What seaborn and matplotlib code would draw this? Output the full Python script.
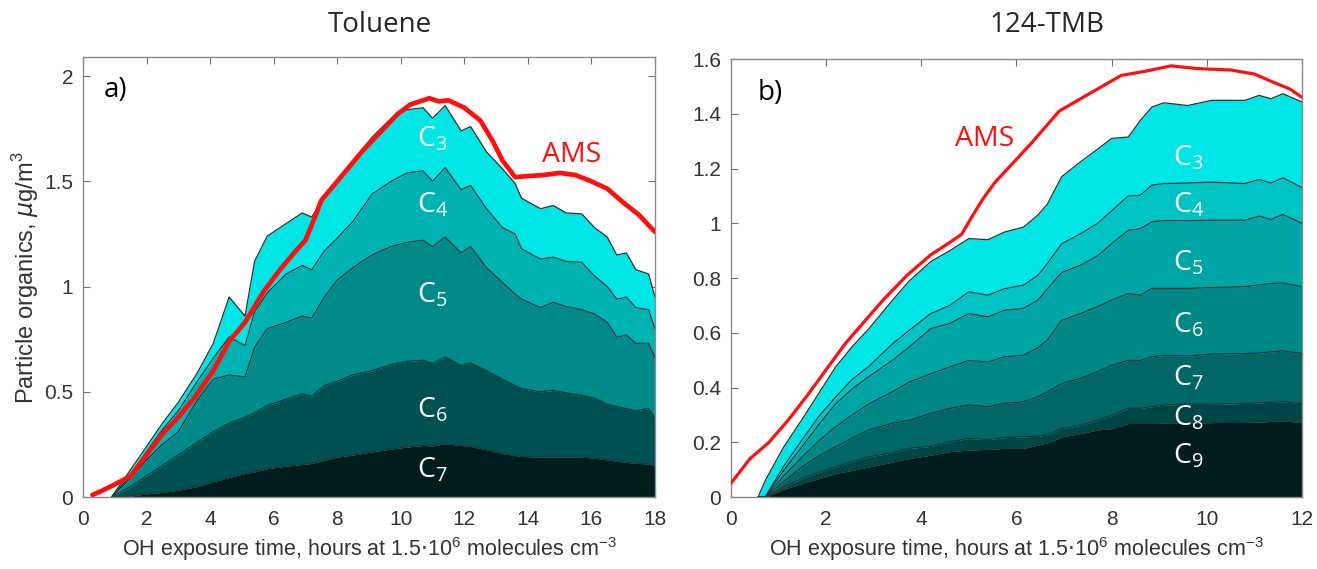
import numpy as np
import seaborn as sns
import matplotlib.pyplot as plt
from matplotlib.ticker import FuncFormatter

# ---- Toluene (panel a): upper edge of each stacked band, bottom to top ----
tol_x = [0.9, 1.5, 2.0, 2.5, 3.0, 3.6, 4.1, 4.6, 5.1, 5.4, 5.8, 6.4, 6.9, 7.2,
         7.6, 8.0, 8.5, 9.1, 9.7, 10.2, 10.7, 11.0, 11.4, 11.9, 12.2, 12.7,
         13.2, 13.6, 13.8, 14.4, 14.8, 15.2, 15.7, 16.1, 16.5, 16.8, 17.1,
         17.4, 17.8, 18.0]
tol_c7 = [0, 0.005, 0.015, 0.022, 0.033, 0.05, 0.073, 0.093, 0.112, 0.12,
          0.135, 0.147, 0.155, 0.16, 0.175, 0.19, 0.20, 0.215, 0.228, 0.238,
          0.245, 0.243, 0.254, 0.245, 0.24, 0.225, 0.207, 0.198, 0.193, 0.19,
          0.19, 0.19, 0.19, 0.185, 0.177, 0.17, 0.165, 0.16, 0.158, 0.147]
tol_c6 = [0, 0.05, 0.10, 0.15, 0.20, 0.26, 0.31, 0.35, 0.38, 0.40, 0.435,
          0.465, 0.49, 0.48, 0.53, 0.55, 0.58, 0.60, 0.63, 0.645, 0.65, 0.635,
          0.665, 0.625, 0.637, 0.60, 0.56, 0.53, 0.515, 0.50, 0.507, 0.495,
          0.483, 0.47, 0.44, 0.43, 0.42, 0.41, 0.42, 0.375]
tol_c5 = [0, 0.09, 0.175, 0.25, 0.31, 0.46, 0.56, 0.58, 0.57, 0.71, 0.80,
          0.83, 0.86, 0.85, 0.95, 1.03, 1.09, 1.15, 1.19, 1.21, 1.22, 1.19,
          1.235, 1.16, 1.19, 1.09, 1.02, 0.965, 0.94, 0.90, 0.925, 0.905,
          0.89, 0.87, 0.83, 0.76, 0.77, 0.73, 0.73, 0.665]
tol_c4 = [0, 0.105, 0.215, 0.32, 0.41, 0.55, 0.66, 0.76, 0.72, 0.88, 0.97,
          1.06, 1.10, 1.08, 1.17, 1.23, 1.31, 1.44, 1.50, 1.54, 1.55, 1.50,
          1.565, 1.46, 1.48, 1.37, 1.28, 1.25, 1.18, 1.13, 1.14, 1.12, 1.115,
          1.05, 1.00, 0.94, 0.95, 0.90, 0.89, 0.80]
tol_c3 = [0, 0.13, 0.24, 0.35, 0.45, 0.59, 0.73, 0.95, 0.86, 1.12, 1.24,
          1.30, 1.35, 1.33, 1.43, 1.50, 1.60, 1.71, 1.80, 1.84, 1.85, 1.80,
          1.86, 1.74, 1.76, 1.64, 1.56, 1.49, 1.42, 1.37, 1.385, 1.35, 1.345,
          1.28, 1.235, 1.15, 1.16, 1.08, 1.06, 0.95]
tol_ams_x = [0.3, 0.6, 1.0, 1.5, 2.0, 2.5, 3.0, 3.5, 4.1, 4.6, 5.1, 5.7, 6.2,
             6.7, 7.0, 7.3, 7.5, 8.0, 8.8, 9.4, 9.9, 10.3, 10.9, 11.2, 11.5,
             12.0, 12.5, 12.9, 13.2, 13.6, 14.0, 14.5, 15.0, 15.5, 16.0, 16.5,
             17.0, 17.5, 18.0]
tol_ams = [0.01, 0.03, 0.06, 0.10, 0.20, 0.30, 0.38, 0.47, 0.60, 0.74, 0.83,
           0.98, 1.08, 1.17, 1.22, 1.33, 1.41, 1.50, 1.645, 1.74, 1.82, 1.865,
           1.895, 1.88, 1.885, 1.85, 1.79, 1.69, 1.60, 1.52, 1.525, 1.53, 1.54,
           1.53, 1.50, 1.465, 1.40, 1.34, 1.26]

# ---- 124-TMB (panel b) ----
tmb_x = [0.57, 0.72, 1.1, 1.5, 1.85, 2.2, 2.55, 2.9, 3.4, 3.75, 4.2, 4.6,
         5.0, 5.4, 5.75, 6.15, 6.45, 6.65, 6.95, 7.35, 7.7, 8.0, 8.35, 8.6,
         8.85, 9.1, 9.6, 10.1, 10.8, 11.1, 11.35, 11.6, 12.0]
tmb_c9 = [0, 0, 0.028, 0.05, 0.068, 0.086, 0.098, 0.11, 0.128, 0.141, 0.153,
          0.166, 0.172, 0.174, 0.178, 0.178, 0.19, 0.198, 0.22, 0.232, 0.245,
          0.25, 0.269, 0.269, 0.269, 0.27, 0.27, 0.272, 0.273, 0.274, 0.276,
          0.278, 0.273]
tmb_c8 = [0, 0, 0.035, 0.068, 0.09, 0.11, 0.13, 0.147, 0.162, 0.178, 0.185,
          0.202, 0.214, 0.21, 0.217, 0.22, 0.222, 0.227, 0.25, 0.262, 0.28,
          0.298, 0.324, 0.324, 0.33, 0.336, 0.339, 0.339, 0.342, 0.344, 0.346,
          0.348, 0.341]
tmb_c7 = [0, 0, 0.055, 0.11, 0.15, 0.183, 0.215, 0.245, 0.27, 0.28, 0.305,
          0.324, 0.336, 0.33, 0.342, 0.348, 0.366, 0.384, 0.414, 0.433, 0.457,
          0.481, 0.499, 0.499, 0.512, 0.518, 0.515, 0.522, 0.524, 0.526, 0.53,
          0.534, 0.524]
tmb_c6 = [0, 0, 0.075, 0.147, 0.205, 0.256, 0.30, 0.34, 0.385, 0.42, 0.45,
          0.475, 0.499, 0.493, 0.512, 0.518, 0.545, 0.573, 0.645, 0.67, 0.695,
          0.719, 0.743, 0.737, 0.762, 0.762, 0.762, 0.765, 0.768, 0.775, 0.78,
          0.782, 0.768]
tmb_c5 = [0, 0, 0.095, 0.185, 0.265, 0.34, 0.395, 0.44, 0.50, 0.548, 0.615,
          0.634, 0.67, 0.658, 0.682, 0.689, 0.719, 0.76, 0.82, 0.847, 0.88,
          0.925, 0.974, 0.98, 1.005, 1.01, 1.009, 1.011, 1.011, 1.026, 1.014,
          1.032, 1.0]
tmb_c4 = [0, 0, 0.11, 0.21, 0.295, 0.365, 0.43, 0.477, 0.56, 0.609, 0.67,
          0.70, 0.75, 0.737, 0.761, 0.774, 0.81, 0.853, 0.925, 0.962, 0.999,
          1.045, 1.10, 1.102, 1.139, 1.145, 1.147, 1.15, 1.145, 1.16, 1.147,
          1.166, 1.13]
tmb_c3 = [0, 0.06, 0.18, 0.285, 0.38, 0.475, 0.55, 0.615, 0.72, 0.79, 0.86,
          0.90, 0.944, 0.94, 0.968, 0.986, 1.03, 1.07, 1.17, 1.225, 1.27, 1.31,
          1.315, 1.375, 1.425, 1.44, 1.43, 1.449, 1.449, 1.467, 1.455, 1.473,
          1.443]
tmb_ams_x = [0, 0.4, 0.8, 1.2, 1.6, 2.0, 2.4, 2.8, 3.2, 3.7, 4.2, 4.6, 4.85,
             5.05, 5.3, 5.55, 5.9, 6.3, 6.9, 7.4, 7.8, 8.2, 8.7, 9.25, 9.8,
             10.5, 11.0, 11.4, 11.75, 12.0]
tmb_ams = [0.05, 0.14, 0.20, 0.28, 0.37, 0.465, 0.56, 0.64, 0.72, 0.81, 0.885,
           0.93, 0.96, 1.02, 1.09, 1.15, 1.215, 1.29, 1.41, 1.46, 1.50, 1.54,
           1.555, 1.575, 1.565, 1.56, 1.545, 1.515, 1.49, 1.46]

tol_labels = ["7", "6", "5", "4", "3"]
tmb_labels = ["9", "8", "7", "6", "5", "4", "3"]
tol_label_y = [0.096, 0.38, 0.926, 1.352, 1.668]
tmb_label_y = [0.123, 0.263, 0.409, 0.603, 0.828, 1.041, 1.212]

tol_colors = ["#001d1d", "#005252", "#008a8a", "#00b3b3", "#00e6e6"]
tmb_colors = ["#001c1c", "#004646", "#006666", "#008787", "#00a6a6",
              "#00c4c4", "#00e6e6"]

sns.set_theme(style="ticks")
plt.rcParams["font.family"] = ["Liberation Sans", "DejaVu Sans"]
text_font = ["Open Sans", "DejaVu Sans"]
edge = "#1c3535"


def stacked(ax, x, tops, colors):
    lower = np.zeros(len(x))
    for top, col in zip(tops, colors):
        top = np.asarray(top)
        ax.fill_between(x, lower, top, color=col, linewidth=0, zorder=1)
        ax.plot(x, top, color=edge, linewidth=0.9, zorder=2)
        lower = top


def style_axes(ax, xmax, ymax, xticks, yticks):
    ax.set_xlim(0, xmax)
    ax.set_ylim(0, ymax)
    ax.set_xticks(xticks)
    ax.set_yticks(yticks)
    ax.yaxis.set_major_formatter(FuncFormatter(lambda v, p: f"{v:g}"))
    ax.tick_params(direction="in", top=True, right=True, length=5,
                   width=0.8, color="#707070", labelcolor="#333333",
                   labelsize=15)
    ax.tick_params(axis="x", pad=9)
    ax.tick_params(axis="y", pad=7)
    for s in ax.spines.values():
        s.set_color("#8a8a8a")
        s.set_linewidth(1.0)
    ax.set_xlabel("OH exposure time, hours at 1.5$\\cdot$10$^{\\mathregular{6}}$"
                  " molecules cm$^{\\mathregular{-3}}$",
                  fontsize=15.5, color="#333333", labelpad=5)


fig = plt.figure(figsize=(13.17, 5.69), dpi=100)
ax1 = fig.add_axes([0.063, 0.1265, 0.4343, 0.773])
ax2 = fig.add_axes([0.555, 0.1265, 0.4336, 0.7698])

# panel a
stacked(ax1, tol_x, [tol_c7, tol_c6, tol_c5, tol_c4, tol_c3], tol_colors)
sns.lineplot(x=tol_ams_x, y=tol_ams, ax=ax1, color="#ff1010",
             linewidth=3.4, sort=False, zorder=3)
style_axes(ax1, 18, 2.09, range(0, 19, 2), [0, 0.5, 1, 1.5, 2])
ax1.set_ylabel("Particle organics, $\\mu$g/m$^{\\mathregular{3}}$",
               fontsize=17, color="#333333", labelpad=2)
for lab, y in zip(tol_labels, tol_label_y):
    ax1.text(10.5, y, "C$_{\\mathregular{%s}}$" % lab, color="white",
             fontsize=20.5, family=text_font, va="baseline", zorder=4)
ax1.text(15.39, 1.625, "AMS", color="#ff1010", fontsize=20.5,
         family=text_font, ha="center", va="center", zorder=4)
ax1.text(0.037, 0.925, "a)", transform=ax1.transAxes, fontsize=20,
         family=text_font, va="center", color="black")

# panel b
stacked(ax2, tmb_x, [tmb_c9, tmb_c8, tmb_c7, tmb_c6, tmb_c5, tmb_c4, tmb_c3],
        tmb_colors)
sns.lineplot(x=tmb_ams_x, y=tmb_ams, ax=ax2, color="#ff1010",
             linewidth=2.3, sort=False, zorder=3)
style_axes(ax2, 12, 1.6, range(0, 13, 2), np.arange(0, 1.61, 0.2).round(1))
ax2.set_ylabel("")
for lab, y in zip(tmb_labels, tmb_label_y):
    ax2.text(9.29, y, "C$_{\\mathregular{%s}}$" % lab, color="white",
             fontsize=20.5, family=text_font, va="baseline", zorder=4)
ax2.text(5.34, 1.307, "AMS", color="#ff1010", fontsize=20.5,
         family=text_font, ha="center", va="center", zorder=4)
ax2.text(0.047, 0.922, "b)", transform=ax2.transAxes, fontsize=20,
         family=text_font, va="center", color="black")

fig.text(380 / 1317, 1 - 25 / 569, "Toluene", fontsize=20, family=text_font,
         ha="center", va="center")
fig.text(1047 / 1317, 1 - 25 / 569, "124-TMB", fontsize=20, family=text_font,
         ha="center", va="center")

fig.savefig("out.png", dpi=100)
